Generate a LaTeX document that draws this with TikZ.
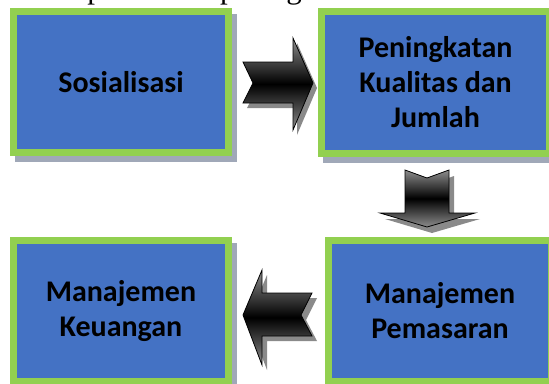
\documentclass[tikz,border=0pt]{standalone}
\usepackage{fontspec}
\setmainfont{Carlito}
\newfontfamily\refserif{Liberation Serif}
\usetikzlibrary{backgrounds}
\definecolor{boxblue}{HTML}{4472C4}
\definecolor{boxgreen}{HTML}{92D050}
\definecolor{boxshadow}{HTML}{A0A8B8}
\definecolor{arrowshadow}{HTML}{8A8A8A}
\tikzset{
  stepbox/.style={draw=boxgreen, fill=boxblue, line width=7pt, align=center,
    font=\fontsize{30}{35}\selectfont\bfseries, text=black, inner sep=0pt},
  boxshade/.style={fill=boxshadow},
  arrowbody/.style={top color=black!45, bottom color=black!45, middle color=black,
    draw=black, line width=0.8pt, line join=miter},
  arrowshade/.style={fill=arrowshadow},
}
\begin{document}
\begin{tikzpicture}[x=1pt,y=-1pt]
\useasboundingbox (0,0) rectangle (549,383);
\clip (0,0) rectangle (549,383);
% cut-off caption line above
\node[anchor=base west, inner sep=0pt, font=\refserif\fontsize{31}{31}\selectfont] (cap) at (58,-2) {dapat dilihat pada gambar berikut:};
% boxes
\node[stepbox, minimum width=215pt, minimum height=141pt] (b1) at (121,82) {Sosialisasi};
\node[stepbox, minimum width=228pt, minimum height=142pt] (b2) at (435.5,82.5) {Peningkatan\\Kualitas dan\\Jumlah};
\node[stepbox, minimum width=215pt, minimum height=141pt] (b3) at (121,311) {Manajemen\\Keuangan};
\node[stepbox, minimum width=223pt, minimum height=141pt] (b4) at (440,311) {Manajemen\\Pemasaran};
\begin{scope}[on background layer]
  \foreach \b in {b1,b2,b3,b4}{
    \fill[boxshade] ([shift={(5,6)}]\b.north west) rectangle ([shift={(5,6)}]\b.south east);
  }
\end{scope}
% right arrow b1 -> b2
\fill[arrowshade, shift={(4,5)}] (243,62) -- (293,62) -- (293,38) -- (313,83) -- (293,130) -- (293,103) -- (243,103) -- (253,83) -- cycle;
\shade[arrowbody] (243,62) -- (293,62) -- (293,38) -- (313,83) -- (293,130) -- (293,103) -- (243,103) -- (253,83) -- cycle;
% down arrow b2 -> b4
\fill[arrowshade, shift={(5,6)}] (405,170) -- (427,178) -- (449,170) -- (449,213) -- (475,213) -- (427,227) -- (380,213) -- (405,213) -- cycle;
\shade[arrowbody] (405,170) -- (427,178) -- (449,170) -- (449,213) -- (475,213) -- (427,227) -- (380,213) -- (405,213) -- cycle;
% left arrow b4 -> b3
\fill[arrowshade, shift={(5,5)}] (243,315) -- (262,270) -- (262,293) -- (312,293) -- (301,315) -- (312,336) -- (262,336) -- (262,365) -- cycle;
\shade[arrowbody] (243,315) -- (262,270) -- (262,293) -- (312,293) -- (301,315) -- (312,336) -- (262,336) -- (262,365) -- cycle;
\end{tikzpicture}
\end{document}
